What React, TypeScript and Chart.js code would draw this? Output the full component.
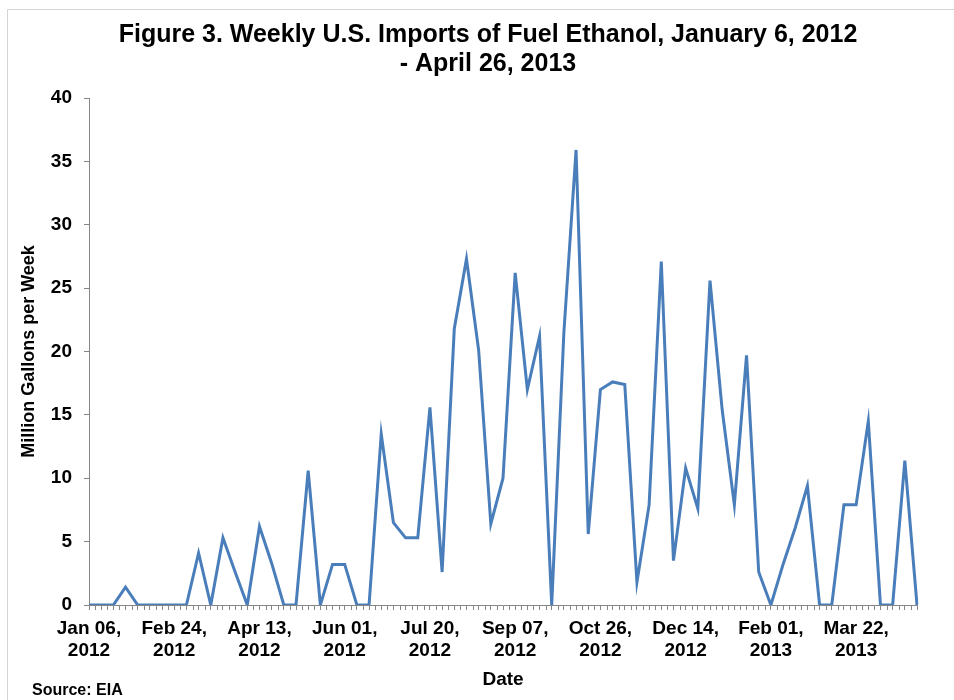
import React, { useEffect, useRef } from "react";
import { Chart, registerables } from "chart.js";

Chart.register(...registerables);

// Weekly dates (Fridays), Jan 6, 2012 - Apr 26, 2013
const weeks: string[] = [
  "Jan 06, 2012", "Jan 13, 2012", "Jan 20, 2012", "Jan 27, 2012",
  "Feb 03, 2012", "Feb 10, 2012", "Feb 17, 2012", "Feb 24, 2012",
  "Mar 02, 2012", "Mar 09, 2012", "Mar 16, 2012", "Mar 23, 2012", "Mar 30, 2012",
  "Apr 06, 2012", "Apr 13, 2012", "Apr 20, 2012", "Apr 27, 2012",
  "May 04, 2012", "May 11, 2012", "May 18, 2012", "May 25, 2012",
  "Jun 01, 2012", "Jun 08, 2012", "Jun 15, 2012", "Jun 22, 2012", "Jun 29, 2012",
  "Jul 06, 2012", "Jul 13, 2012", "Jul 20, 2012", "Jul 27, 2012",
  "Aug 03, 2012", "Aug 10, 2012", "Aug 17, 2012", "Aug 24, 2012", "Aug 31, 2012",
  "Sep 07, 2012", "Sep 14, 2012", "Sep 21, 2012", "Sep 28, 2012",
  "Oct 05, 2012", "Oct 12, 2012", "Oct 19, 2012", "Oct 26, 2012",
  "Nov 02, 2012", "Nov 09, 2012", "Nov 16, 2012", "Nov 23, 2012", "Nov 30, 2012",
  "Dec 07, 2012", "Dec 14, 2012", "Dec 21, 2012", "Dec 28, 2012",
  "Jan 04, 2013", "Jan 11, 2013", "Jan 18, 2013", "Jan 25, 2013",
  "Feb 01, 2013", "Feb 08, 2013", "Feb 15, 2013", "Feb 22, 2013",
  "Mar 01, 2013", "Mar 08, 2013", "Mar 15, 2013", "Mar 22, 2013", "Mar 29, 2013",
  "Apr 05, 2013", "Apr 12, 2013", "Apr 19, 2013", "Apr 26, 2013",
];

// Million gallons per week
const imports: number[] = [
  0, 0, 0, 1.4, 0, 0, 0, 0,
  0, 4.1, 0, 5.3, 2.6,
  0, 6.2, 3.3, 0,
  0, 10.6, 0, 3.2,
  3.2, 0, 0, 13.5, 6.5,
  5.3, 5.3, 15.6, 2.6,
  21.8, 27.3, 20.1, 6.4, 10.0,
  26.2, 17.0, 21.2, 0,
  21.5, 35.9, 5.6, 17.0,
  17.6, 17.4, 1.8, 7.9, 27.1,
  3.5, 10.8, 7.6, 25.6,
  15.4, 7.9, 19.7, 2.6,
  0, 3.2, 6.1, 9.4,
  0, 0, 7.9, 7.9, 14.5,
  0, 0, 11.4, 0,
];

const yTicks = { min: 0, max: 40, step: 5 };
const labelEvery = 7;

const titleLines = [
  "Figure 3. Weekly U.S. Imports of Fuel Ethanol, January 6, 2012",
  "- April 26, 2013",
];
const yTitle = "Million Gallons per Week";
const xTitle = "Date";
const sourceText = "Source: EIA";

const FONT = "'Liberation Sans', Arial, Helvetica, sans-serif";
const AXIS = "#868686";
const LINE = "#4a7ebb";

export default function App() {
  const ref = useRef<HTMLCanvasElement | null>(null);

  useEffect(() => {
    if (!ref.current) return;

    const framePlugin = {
      id: "frameAndExtras",
      beforeDraw(chart: any) {
        const { ctx, width, height } = chart;
        ctx.save();
        ctx.fillStyle = "#ffffff";
        ctx.fillRect(0, 0, width, height);
        ctx.strokeStyle = "#d4d4d4";
        ctx.lineWidth = 1;
        ctx.beginPath();
        ctx.moveTo(7.5, height);
        ctx.lineTo(7.5, 9.5);
        ctx.lineTo(width, 9.5);
        ctx.stroke();
        ctx.restore();
      },
      afterDraw(chart: any) {
        const { ctx } = chart;
        const xs = chart.scales.x;
        const area = chart.chartArea;
        ctx.save();
        // half-week minor tick marks
        ctx.strokeStyle = AXIS;
        ctx.lineWidth = 1;
        ctx.beginPath();
        for (let i = 0; i < weeks.length - 1; i++) {
          const px = Math.round((xs.getPixelForValue(i) + xs.getPixelForValue(i + 1)) / 2) + 0.5;
          ctx.moveTo(px, area.bottom);
          ctx.lineTo(px, area.bottom + 5);
        }
        ctx.stroke();
        // chart title
        ctx.fillStyle = "#000";
        ctx.textAlign = "center";
        ctx.textBaseline = "middle";
        ctx.font = `bold 25px ${FONT}`;
        titleLines.forEach((t, i) => ctx.fillText(t, 488, 35 + i * 29));
        // source note
        ctx.font = `bold 16px ${FONT}`;
        ctx.textAlign = "left";
        ctx.fillText(sourceText, 32, 691);
        ctx.restore();
      },
    };

    const chart = new Chart(ref.current, {
      type: "line",
      data: {
        labels: weeks,
        datasets: [
          {
            data: imports,
            borderColor: LINE,
            backgroundColor: LINE,
            borderWidth: 3,
            pointRadius: 0,
            pointHoverRadius: 0,
            fill: false,
            tension: 0,
          },
        ],
      },
      options: {
        animation: false,
        responsive: false,
        devicePixelRatio: 1,
        layout: { padding: { left: 0, right: 37, top: 98, bottom: 0 } },
        plugins: {
          legend: { display: false },
          tooltip: { enabled: false },
          title: { display: false },
        },
        scales: {
          x: {
            type: "category",
            offset: false,
            grid: { drawOnChartArea: false, drawTicks: true, tickLength: 5, color: AXIS },
            border: { display: true, color: AXIS, width: 1 },
            ticks: {
              autoSkip: false,
              maxRotation: 0,
              minRotation: 0,
              padding: 8,
              color: "#000",
              font: { family: FONT, size: 19, weight: "bold", lineHeight: 1.15 },
              callback: (_v: any, i: number) => {
                if (i % labelEvery !== 0) return "";
                const s = weeks[i];
                const k = s.indexOf(", ");
                return [s.slice(0, k + 1), s.slice(k + 2)];
              },
            },
            title: {
              display: true,
              text: xTitle,
              color: "#000",
              font: { family: FONT, size: 19, weight: "bold", lineHeight: 1.2 },
              padding: { top: 0, bottom: 8.6 },
            },
            afterFit: (s: any) => {
              s.height = 95;
            },
          },
          y: {
            type: "linear",
            min: yTicks.min,
            max: yTicks.max,
            grid: { drawOnChartArea: false, drawTicks: true, tickLength: 5, color: AXIS },
            border: { display: true, color: AXIS, width: 1 },
            ticks: {
              stepSize: yTicks.step,
              padding: 12,
              color: "#000",
              font: { family: FONT, size: 19, weight: "bold" },
            },
            title: {
              display: true,
              text: yTitle,
              color: "#000",
              font: { family: FONT, size: 18, weight: "bold", lineHeight: 1.2 },
              padding: { top: 18, bottom: 0 },
            },
            afterFit: (s: any) => {
              s.width = 89;
            },
          },
        },
      },
      plugins: [framePlugin],
    } as any);

    return () => chart.destroy();
  }, []);

  return (
    <div style={{ position: "absolute", left: 0, top: 0, width: 954, height: 700 }}>
      <canvas ref={ref} width={954} height={700} style={{ display: "block", width: 954, height: 700 }} />
    </div>
  );
}
